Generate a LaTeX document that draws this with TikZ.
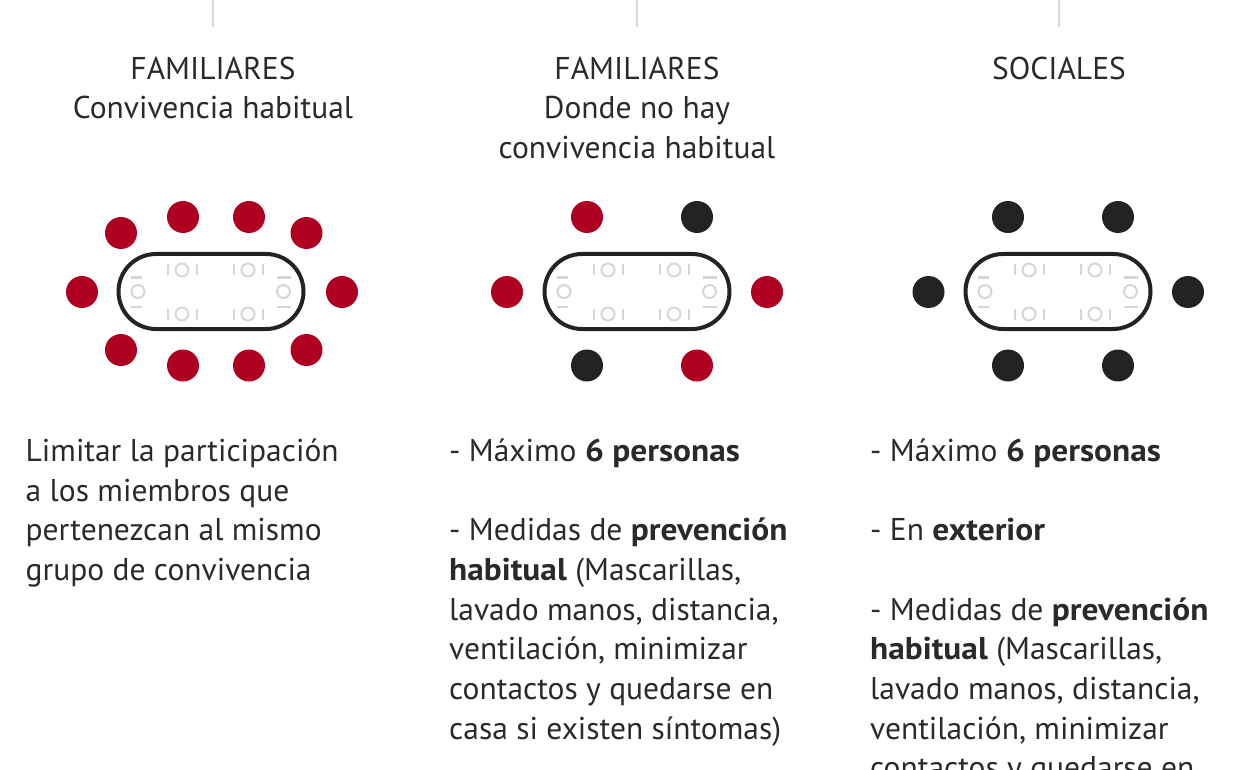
\documentclass[tikz,border=0pt]{standalone}
\usepackage{fontspec}
\setmainfont[BoldFeatures={FakeStretch=1.06}]{PT Sans}
\usetikzlibrary{positioning}
\definecolor{rojo}{HTML}{AF0021}
\definecolor{negro}{HTML}{232326}
\definecolor{gris}{HTML}{D6D6D6}
\definecolor{texto}{HTML}{2A2A2C}
\tikzset{
  titulo/.style={align=center, inner sep=0pt, text=texto, font=\fontsize{31.5}{39.8}\selectfont},
  cuerpo/.style={align=left, anchor=north west, inner sep=0pt, text=texto, font=\fontsize{31.5}{39.7}\selectfont},
  mesa/.style={draw=negro, line width=4pt, rectangle, rounded corners=37.5pt, minimum width=185pt, minimum height=75pt, inner sep=0pt},
  roja/.style={circle, fill=rojo, minimum size=32pt, inner sep=0pt},
  negra/.style={circle, fill=negro, minimum size=32pt, inner sep=0pt},
  aro/.style={circle, draw=gris, line width=2pt, minimum size=13pt, inner sep=0pt},
  raya/.style={draw=gris, line width=2pt},
  guia/.style={draw=gris, line width=2pt}
}
% una mesa con sus cuatro sillas largas y las dos de cabecera
\newcommand{\mesacon}[2]{
  \node [mesa] (#1) at (#2, 291.5) {};
  \foreach \i/\dx/\yy in {a/-29/270, b/37/270, c/-29/314, d/37/314} {
    \node [aro] (#1\i) at (#2+\dx, \yy) {};
    \draw [raya] (#2+\dx-14.5, \yy-5.5) -- (#2+\dx-14.5, \yy+5.5);
    \draw [raya] (#2+\dx+14.5, \yy-5.5) -- (#2+\dx+14.5, \yy+5.5);
  }
  \node [aro] (#1e) at (#2-73, 291.5) {};
  \draw [raya] (#2-80, 277.5) -- (#2-69, 277.5);
  \draw [raya] (#2-80, 306.5) -- (#2-69, 306.5);
  \node [aro] (#1f) at (#2+72.5, 291.5) {};
  \draw [raya] (#2+65.5, 277.5) -- (#2+80, 277.5);
  \draw [raya] (#2+65.5, 306.5) -- (#2+80, 306.5);
}
\begin{document}
\begin{tikzpicture}[x=1pt, y=-1pt]
  \clip (0, 0) rectangle (1248, 770);

  % lineas de arriba
  \foreach \n/\x in {uno/213, dos/637, tres/1059} {
    \coordinate (\n top) at (\x, 0);
    \coordinate (\n bot) at (\x, 27);
    \draw [guia] (\n top) -- (\n bot);
  }

  % titulos
  \node [titulo, anchor=north] (titulouno) at (213, 56.5) {FAMILIARES\\Convivencia habitual};
  \node [titulo, anchor=north] (titulodos) at (637, 56.5) {FAMILIARES\\Donde no hay\\convivencia habitual};
  \node [titulo, anchor=north] (titulotres) at (1059, 56.5) {SOCIALES};

  % mesas
  \mesacon{mesauno}{211}
  \mesacon{mesados}{637}
  \mesacon{mesatres}{1058}

  % personas
  \foreach \n/\x/\y in {a/82/292, b/121/233, c/183/217, d/249/217, e/306.5/233, f/342/292, g/121/350, h/183/365.5, i/249/365.5, j/306.5/350}
    \node [roja] (uno\n) at (\x, \y) {};
  \foreach \n/\x/\y in {a/507/292, b/587/217, c/767/292, d/697/365.5}
    \node [roja] (dos\n) at (\x, \y) {};
  \foreach \n/\x/\y in {e/697/217, f/587/365.5}
    \node [negra] (dos\n) at (\x, \y) {};
  \foreach \n/\x/\y in {a/928.5/292, b/1008/217, c/1118/217, d/1188/292, e/1008/365.5, f/1118/365.5}
    \node [negra] (tres\n) at (\x, \y) {};

  % textos
  \node [cuerpo] (textouno) at (25.5, 438.5) {Limitar la participación\\a los miembros que\\pertenezcan al mismo\\grupo de convivencia};
  \node [cuerpo] (textodos) at (449, 438.5) {- Máximo \textbf{6 personas}\\[39.7pt]- Medidas de \textbf{prevención}\\\textbf{habitual} (Mascarillas,\\lavado manos, distancia,\\ventilación, minimizar\\contactos y quedarse en\\casa si existen síntomas)};
  \node [cuerpo] (textotres) at (870, 438.5) {- Máximo \textbf{6 personas}\\[39.7pt]- En \textbf{exterior}\\[39.7pt]- Medidas de \textbf{prevención}\\\textbf{habitual} (Mascarillas,\\lavado manos, distancia,\\ventilación, minimizar\\contactos y quedarse en};
\end{tikzpicture}
\end{document}
